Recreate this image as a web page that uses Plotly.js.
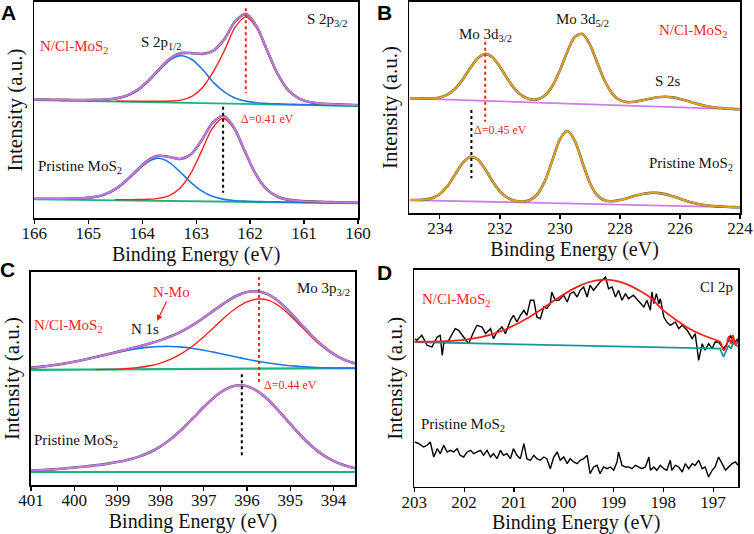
<!DOCTYPE html>
<html>
<head>
<meta charset="utf-8">
<script src="https://cdn.plot.ly/plotly-3.0.1.min.js"></script>
<style>html,body{margin:0;padding:0;background:#fff;}#chart{width:754px;height:534px;}</style>
</head>
<body>
<div id="chart"></div>
<script>
// ---------- Panel A : S 2p ----------
const aUpX = [166.0,165.88,165.68,165.48,165.28,165.08,164.88,164.68,164.48,164.28,164.08,163.88,163.68,163.48,163.28,163.08,162.88,162.68,162.48,162.28,162.08,161.88,161.68,161.48,161.28,161.08,160.88,160.68,160.48,160.28,160.08,160.0];
const aUpEnv = [118.5,118.38,118.25,118.13,118.05,118.02,118.11,118.50,119.71,122.63,128.42,137.64,149.17,159.69,164.84,164.9,164.1,167.4,178.60,196.36,203.83,191.59,167.01,143.08,127.12,119.10,115.79,114.47,113.80,113.35,112.96,112.9];
const aUpBlue = [118.3,118.18,118.03,117.89,117.77,117.71,117.75,118.09,119.23,122.06,127.74,136.80,148.11,158.20,162.28,158.5,148.5,135.60,126.14,120.06,116.83,115.29,114.55,114.11,113.77,113.49,113.23,112.98,112.74,112.51,112.28,112.2];
const aUpRedX = [164.48,164.28,164.08,163.88,163.68,163.48,163.28,163.08,162.88,162.68,162.48,162.28,162.08,161.88,161.68,161.48,161.28,161.08,160.88,160.68,160.48,160.28,160.08];
const aUpRed = [116.96,116.85,116.76,116.72,116.74,116.97,117.84,121.5,130.5,146.5,166.94,190.58,201.08,190.18,166.14,142.45,126.63,118.69,115.44,114.17,113.54,113.12,112.76];
const aUpBaseX = [166, 160];
const aUpBase = [118, 112];

const aLoX = [166.0,165.9,165.7,165.5,165.3,165.1,164.9,164.7,164.5,164.3,164.1,163.9,163.7,163.5,163.3,163.1,162.9,162.7,162.5,162.3,162.1,161.9,161.7,161.5,161.3,161.1,160.9,160.7,160.5,160.3,160.1,160.0];
const aLoEnv = [19.3,19.24,19.22,19.24,19.37,19.77,20.92,23.60,28.89,37.28,47.78,57.35,62.12,61.03,59.02,63.42,77.40,94.78,102.16,90.56,67.12,44.28,29.07,21.44,18.34,17.12,16.56,16.18,15.86,15.60,15.38,15.3];
const aLoBlue = [19.05,19.01,18.95,18.94,19.03,19.38,20.46,23.06,28.24,36.48,46.76,55.93,59.67,55.66,46.23,35.68,27.17,21.73,18.86,17.51,16.89,16.54,16.28,16.07,15.89,15.70,15.54,15.38,15.21,15.06,14.92,14.85];
const aLoRedX = [164.5,164.3,164.1,163.9,163.7,163.5,163.3,163.1,162.9,162.7,162.5,162.3,162.1,161.9,161.7,161.5,161.3,161.1,160.9,160.7,160.5,160.3,160.1];
const aLoRed = [18.35,18.37,18.45,18.72,19.62,22.40,29.69,44.51,66.86,89.55,99.67,89.28,66.33,43.71,28.62,21.07,18.02,16.85,16.32,15.97,15.68,15.44,15.23];
const aLoBaseX = [166, 160];
const aLoBase = [18.7, 14.7];
const aDotRedX = [162.08, 162.08], aDotRedY = [209.7, 124.7];
const aDotBlkX = [162.5, 162.5], aDotBlkY = [111.3, 25.3];

// ---------- Panel B : Mo 3d ----------
const bX = [235,234.75,234.5,234.25,234,233.75,233.5,233.25,233,232.75,232.5,232.25,232,231.75,231.5,231.25,231,230.75,230.5,230.25,230,229.75,229.5,229.25,229,228.75,228.5,228.25,228,227.75,227.5,227.25,227,226.75,226.5,226.25,226,225.75,225.5,225.25,225,224.75,224.5,224.25,224];
const bUpEnv = [114.71,114.48,114.35,114.53,115.52,118.27,123.95,133.09,144.45,154.52,159.06,155.80,146.21,134.28,123.89,117.04,113.70,113.62,117.49,126.93,142.63,161.53,176.21,179.08,168.39,149.78,131.71,119.16,112.85,110.88,111.25,112.67,114.34,115.68,116.18,115.60,114.05,111.92,109.68,107.73,106.24,105.22,104.54,104.09,103.75];
const bLoEnv = [13.00,12.99,13.39,14.98,19.04,26.85,38.10,49.55,55.98,53.85,44.24,31.97,21.68,15.30,12.27,11.50,12.99,18.80,32.09,52.89,73.64,81.99,71.94,50.53,30.04,17.52,12.49,11.77,12.95,14.92,17.14,19.06,20.16,20.12,18.89,16.78,14.24,11.80,9.75,8.25,7.24,6.61,6.20,5.94,5.72];
const bBaseX = [235, 224];
const bUpBase = [114.7, 103.7];
const bLoBase = [12.96, 5.7];
const bDotRedX = [232.49, 232.49], bDotRedY = [171.3, 91.3];
const bDotBlkX = [232.95, 232.95], bDotBlkY = [103, 34.7];

// ---------- Panel C : N 1s / Mo 3p ----------
const cX = [401,400.75,400.5,400.25,400,399.75,399.5,399.25,399,398.75,398.5,398.25,398,397.75,397.5,397.25,397,396.75,396.5,396.25,396,395.75,395.5,395.25,395,394.75,394.5,394.25,394,393.75,393.5];
const cUpEnv = [117.34,118.38,119.71,121.34,123.28,125.48,127.91,130.49,133.15,135.85,138.61,141.56,144.89,148.94,153.94,160.10,167.30,175.10,182.70,189.02,192.95,193.63,190.40,183.05,172.66,160.88,149.29,139.16,131.14,125.34,121.53];
const cUpBlue = [117.34,118.38,119.71,121.34,123.26,125.44,127.81,130.26,132.65,134.82,136.61,137.89,138.54,138.53,137.84,136.55,134.77,132.64,130.33,127.99,125.75,123.71,121.94,120.48,119.31,118.42,117.77,117.32,117.02,116.83,116.73];
const cUpRedX = [399.5,399.25,399,398.75,398.5,398.25,398,397.75,397.5,397.25,397,396.75,396.5,396.25,396,395.75,395.5,395.25,395,394.75,394.5,394.25,394,393.75,393.5];
const cUpRed = [115.4,115.58,115.9,116.48,117.5,119.22,121.95,126.06,131.8,139.3,148.33,158.31,168.27,176.98,183.2,185.97,184.56,178.72,169.55,158.71,147.82,138.19,130.52,124.96,121.3];
const cLoEnv = [14.40,14.95,15.63,16.45,17.40,18.47,19.70,21.14,22.89,25.20,28.35,32.73,38.71,46.50,56.05,66.86,77.97,88.05,95.61,99.44,98.78,93.65,84.78,73.43,61.11,49.22,38.78,30.34,24.03,19.63,16.77];
const cBaseX = [401, 393.5];
const cUpBase = [115.2, 116.8];
const cLoBase = [13, 13];
const cDotRedX = [395.72, 395.72], cDotRedY = [208, 100.7];
const cDotBlkX = [396.12, 396.12], cDotBlkY = [110.7, 27.3];

// ---------- Panel D : Cl 2p ----------
const dUpX = [202.99,202.95,202.85,202.745,202.645,202.54,202.48,202.44,202.41,202.31,202.18,202.11,202.01,201.91,201.81,201.74,201.64,201.57,201.47,201.41,201.34,201.24,201.17,201.07,201.01,200.94,200.87,200.80,200.74,200.67,200.60,200.54,200.47,200.40,200.34,200.27,200.24,200.17,200.10,200.00,199.93,199.87,199.80,199.73,199.67,199.60,199.53,199.47,199.40,199.33,199.27,199.16,199.10,199.03,198.96,198.90,198.83,198.76,198.70,198.60,198.46,198.39,198.33,198.26,198.23,198.19,198.14,198.09,198.06,197.99,197.93,197.86,197.76,197.69,197.62,197.52,197.42,197.36,197.29,197.22,197.16,197.09,197.02,196.96,196.89,196.79,196.72,196.65,196.59,196.50];
const dUpY = [148.0,146.4,151.4,141.4,139.7,149.7,151.4,131.4,143.0,146.4,158.0,156.4,149.7,143.0,154.7,161.4,159.7,153.0,158.0,148.0,154.7,159.7,153.0,166.4,171.4,164.7,171.4,176.4,171.4,186.4,186.4,169.7,168.0,179.7,178.0,183.0,194.7,186.4,186.4,191.4,184.7,193.0,194.7,189.7,196.4,199.7,189.7,201.4,196.4,201.4,204.7,209.7,198.0,199.7,189.7,196.4,186.4,193.0,188.0,191.4,183.0,179.7,186.4,176.4,194.7,183.0,193.0,183.0,188.0,169.7,164.7,161.4,164.7,158.0,161.4,156.4,148.0,153.0,126.4,143.0,136.4,143.0,138.0,144.7,144.7,138.0,143.0,151.4,143.0,148.0];
const dFitX = [203,202.75,202.5,202.25,202,201.75,201.5,201.25,201,200.75,200.5,200.25,200,199.75,199.5,199.25,199,198.75,198.5,198.25,198,197.75,197.5,197.25,197,196.86,196.79,196.73,196.69,196.64,196.60,196.55,196.50];
const dFitY = [144.97,144.97,145.19,145.75,146.86,148.73,151.60,155.71,161.15,167.93,175.76,184.12,192.26,199.33,204.43,206.87,206.30,202.73,196.63,188.74,176.3,167.0,158.7,152.4,147.7,144.7,136.4,141.4,149.7,143.0,151.4,141.4,146.4];
const dBgX = [203,196.86,196.79,196.73,196.69,196.64,196.59,196.50];
const dBgY = [144.7,138.0,129.7,136.4,141.4,138.0,144.7,139.7];
const dLoX = [202.99,202.91,202.81,202.745,202.68,202.61,202.54,202.48,202.41,202.34,202.28,202.21,202.14,202.08,202.01,201.94,201.87,201.81,201.74,201.67,201.61,201.54,201.47,201.41,201.34,201.27,201.21,201.14,201.07,201.01,200.94,200.87,200.80,200.74,200.67,200.60,200.54,200.47,200.40,200.34,200.27,200.20,200.13,200.07,200.00,199.93,199.87,199.80,199.73,199.67,199.60,199.53,199.47,199.40,199.33,199.27,199.20,199.13,199.06,198.997,198.93,198.90,198.83,198.76,198.70,198.63,198.56,198.49,198.43,198.36,198.29,198.26,198.19,198.13,198.06,197.99,197.93,197.86,197.83,197.76,197.69,197.62,197.56,197.49,197.42,197.36,197.29,197.22,197.16,197.09,197.02,196.96,196.89,196.82,196.75,196.69,196.62,196.55,196.50];
const dLoY = [44.7,43.0,39.7,41.4,44.7,29.7,38.0,33.0,41.4,34.7,36.4,34.7,38.0,31.4,29.7,34.7,36.4,33.0,34.7,36.4,31.4,36.4,29.7,33.0,28.0,36.4,31.4,33.0,28.0,38.0,31.4,28.0,43.0,28.0,26.4,31.4,28.0,26.4,29.7,28.0,18.0,29.7,34.7,26.4,29.7,23.0,28.0,24.7,23.0,26.4,28.0,31.4,13.0,19.7,21.4,13.0,19.7,18.0,19.7,16.4,24.7,34.7,21.4,19.7,19.7,18.0,21.4,19.7,18.0,19.7,29.7,16.4,19.7,16.4,21.4,18.0,16.4,26.4,16.4,21.4,19.7,14.7,23.0,18.0,23.0,21.4,26.4,18.0,19.7,9.7,16.4,19.7,29.7,23.0,16.4,19.7,23.0,24.7,21.4];

// ---------- colours ----------
const PURPLE = '#c678e6', RAW = '#555555', RED = '#ff1f1f', BLUE = '#1e78e6', GREEN = '#1fb57a';
const ORANGE = '#e3a11f', BPURP = '#cc7fea', TEAL = '#159a9c';

function ln(x, y, ax, color, width, opts) {
  const t = {x: x, y: y, xaxis: 'x' + (ax === 1 ? '' : ax), yaxis: 'y' + (ax === 1 ? '' : ax),
    mode: 'lines', line: {color: color, width: width}, hoverinfo: 'skip'};
  if (opts && opts.spline) { t.line.shape = 'spline'; t.line.smoothing = 0.8; }
  if (opts && opts.dash) t.line.dash = opts.dash;
  return t;
}

const traces = [
  ln(aUpBaseX, aUpBase, 1, GREEN, 1.8),
  ln(aLoBaseX, aLoBase, 1, GREEN, 1.8),
  ln(aUpX, aUpBlue, 1, BLUE, 1.6, {spline: true}),
  ln(aLoX, aLoBlue, 1, BLUE, 1.6, {spline: true}),
  ln(aUpRedX, aUpRed, 1, RED, 1.4, {spline: true}),
  ln(aLoRedX, aLoRed, 1, RED, 1.4, {spline: true}),
  ln(aUpX, aUpEnv, 1, RAW, 2.6, {spline: true}),
  ln(aLoX, aLoEnv, 1, RAW, 2.6, {spline: true}),
  ln(aUpX, aUpEnv, 1, PURPLE, 1.9, {spline: true}),
  ln(aLoX, aLoEnv, 1, PURPLE, 1.9, {spline: true}),
  ln(aDotRedX, aDotRedY, 1, RED, 2, {dash: 'dot'}),
  ln(aDotBlkX, aDotBlkY, 1, '#000', 2, {dash: 'dot'}),
  ln(bBaseX, bUpBase, 2, BPURP, 1.8),
  ln(bBaseX, bLoBase, 2, BPURP, 1.8),
  ln(bX, bUpEnv, 2, RAW, 2.6, {spline: true}),
  ln(bX, bLoEnv, 2, RAW, 2.6, {spline: true}),
  ln(bX, bUpEnv, 2, ORANGE, 1.9, {spline: true}),
  ln(bX, bLoEnv, 2, ORANGE, 1.9, {spline: true}),
  ln(bDotRedX, bDotRedY, 2, RED, 2, {dash: 'dot'}),
  ln(bDotBlkX, bDotBlkY, 2, '#000', 2, {dash: 'dot'}),
  ln(cBaseX, cUpBase, 3, GREEN, 2.2),
  ln(cBaseX, cLoBase, 3, GREEN, 2.2),
  ln(cX, cUpBlue, 3, BLUE, 1.6, {spline: true}),
  ln(cUpRedX, cUpRed, 3, RED, 1.4, {spline: true}),
  ln(cX, cUpEnv, 3, RAW, 2.6, {spline: true}),
  ln(cX, cLoEnv, 3, RAW, 2.6, {spline: true}),
  ln(cX, cUpEnv, 3, PURPLE, 1.9, {spline: true}),
  ln(cX, cLoEnv, 3, PURPLE, 1.9, {spline: true}),
  ln(cDotRedX, cDotRedY, 3, RED, 2, {dash: 'dot'}),
  ln(cDotBlkX, cDotBlkY, 3, '#000', 2, {dash: 'dot'}),
  ln(dUpX, dUpY, 4, '#000', 1.4),
  ln(dLoX, dLoY, 4, '#000', 1.4),
  ln(dBgX, dBgY, 4, TEAL, 1.8),
  ln(dFitX, dFitY, 4, RED, 1.8, {spline: true})
];

const SERIF = 'Liberation Serif';
function xax(domain, anchor, range, dtick) {
  return {domain: domain, anchor: anchor, range: range, dtick: dtick, tick0: 0,
    ticks: 'outside', ticklen: 4, tickwidth: 1.2, tickcolor: '#000', ticklabelstandoff: -5,
    showline: true, linewidth: 1.6, linecolor: '#000', mirror: true,
    showgrid: false, zeroline: false,
    tickfont: {family: SERIF, size: 17, color: '#111'},
    title: {text: 'Binding Energy (eV)', font: {family: SERIF, size: 20, color: '#111'}, standoff: 0}};
}
function yax(domain, anchor, range) {
  return {domain: domain, anchor: anchor, range: range,
    showticklabels: false, ticks: '', showline: true, linewidth: 1.6, linecolor: '#000', mirror: true,
    showgrid: false, zeroline: false,
    title: {text: 'Intensity (a.u.)', font: {family: SERIF, size: 21, color: '#111'}, standoff: 4}};
}

function ann(text, ax, x, y, color, size, extra) {
  const a = {text: text, x: x, y: y, xref: 'x' + (ax === 1 ? '' : ax), yref: 'y' + (ax === 1 ? '' : ax),
    showarrow: false, xanchor: 'center', yanchor: 'middle',
    font: {family: SERIF, size: size, color: color}};
  return Object.assign(a, extra || {});
}
function letter(text, x, y) {
  return {text: '<b>' + text + '</b>', x: x, y: y, xref: 'paper', yref: 'paper', showarrow: false,
    xanchor: 'center', yanchor: 'middle', font: {family: 'Liberation Sans', size: 21, color: '#000'}};
}

const annotations = [
  letter('A', 0.0119, 0.9775), letter('B', 0.5106, 0.9775), letter('C', 0.0106, 0.4944), letter('D', 0.5106, 0.4906),
  ann('N/Cl-MoS<sub>2</sub>', 1, 165.25, 171, RED, 15),
  ann('S 2p<sub>1/2</sub>', 1, 163.65, 175, '#111', 15),
  ann('S 2p<sub>3/2</sub>', 1, 160.56, 198, '#111', 15),
  ann('Δ=0.41 eV', 1, 161.67, 99, RED, 12),
  ann('Pristine MoS<sub>2</sub>', 1, 165.15, 51, '#111', 15),
  ann('Mo 3d<sub>3/2</sub>', 2, 232.47, 178, '#111', 15),
  ann('Mo 3d<sub>5/2</sub>', 2, 229.25, 193, '#111', 15),
  ann('N/Cl-MoS<sub>2</sub>', 2, 225.56, 182, RED, 15),
  ann('S 2s', 2, 226.39, 132, '#111', 15),
  ann('Δ=0.45 eV', 2, 231.97, 83, RED, 12),
  ann('Pristine MoS<sub>2</sub>', 2, 225.63, 49, '#111', 15),
  ann('Mo 3p<sub>3/2</sub>', 3, 394.24, 196, '#111', 15),
  ann('N-Mo', 3, 398.08, 164, RED, 15, {showarrow: true, ax: 14, ay: -29, arrowcolor: RED, arrowhead: 2, arrowsize: 1, arrowwidth: 1.2, standoff: 0}),
  ann('N/Cl-MoS<sub>2</sub>', 3, 400.14, 159, RED, 15),
  ann('N 1s', 3, 398.36, 156, '#111', 15),
  ann('Δ=0.44 eV', 3, 395.0, 100, RED, 12),
  ann('Pristine MoS<sub>2</sub>', 3, 399.96, 44, '#111', 15),
  ann('Cl 2p', 4, 196.94, 199.7, '#111', 15),
  ann('N/Cl-MoS<sub>2</sub>', 4, 202.16, 186.7, RED, 15),
  ann('Pristine MoS<sub>2</sub>', 4, 202.02, 61.7, '#111', 15)
];

const layout = {
  width: 754, height: 534, margin: {l: 0, r: 0, t: 0, b: 0},
  paper_bgcolor: '#fff', plot_bgcolor: '#fff', showlegend: false,
  font: {family: SERIF},
  xaxis: xax([0.0455, 0.4748], 'y', [166, 160], 1),
  yaxis: yax([0.5918, 0.9963], 'x', [0, 216]),
  xaxis2: xax([0.5428, 0.9814], 'y2', [235.02, 224], 2),
  yaxis2: yax([0.6011, 0.9963], 'x2', [0, 211]),
  xaxis3: xax([0.0411, 0.4708], 'y3', [401, 393.5], 1),
  yaxis3: yax([0.0918, 0.4906], 'x3', [0, 213]),
  xaxis4: xax([0.5495, 0.9788], 'y4', [203, 196.5], 1),
  yaxis4: yax([0.0886, 0.4944], 'x4', [0, 216.7]),
  annotations: annotations
};

Plotly.newPlot('chart', traces, layout, {displayModeBar: false, staticPlot: true});
</script>
</body>
</html>
